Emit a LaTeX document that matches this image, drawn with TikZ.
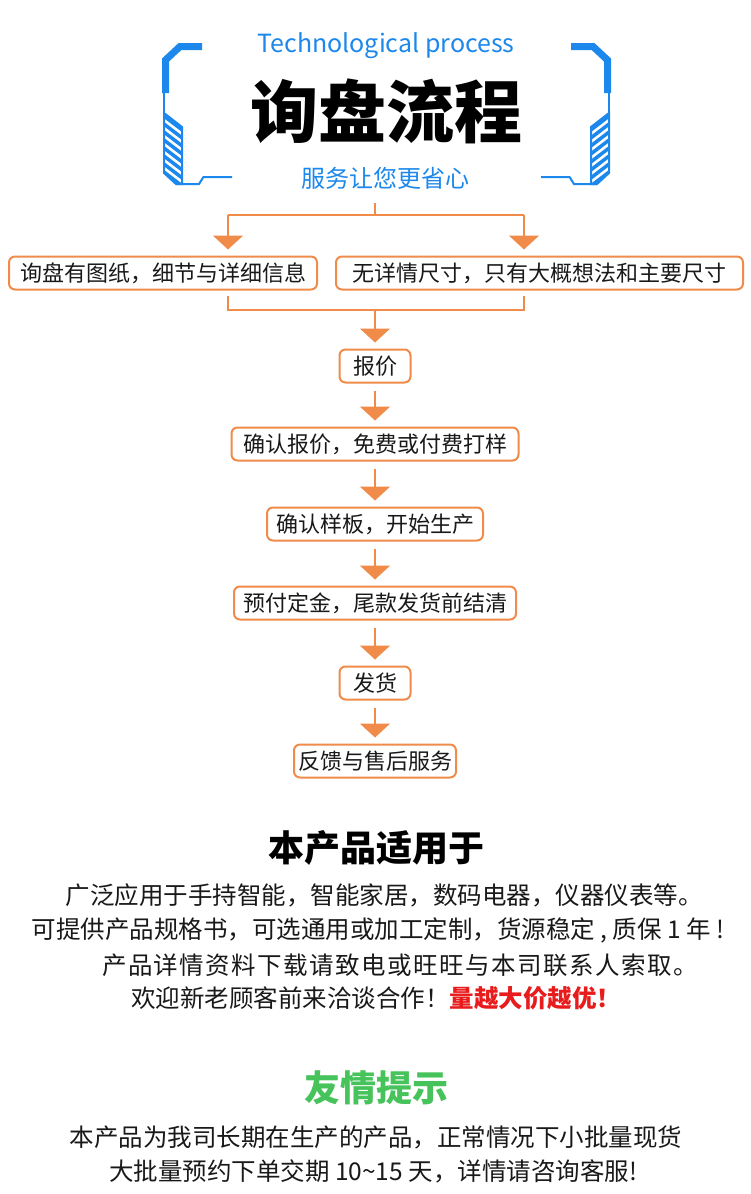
\documentclass[tikz,border=0pt]{standalone}
\usepackage{fontspec}
\setmainfont{Noto Sans CJK SC}
\usetikzlibrary{arrows.meta,positioning}

\definecolor{headblue}{RGB}{28,136,235}
\definecolor{floworange}{RGB}{241,139,74}
\definecolor{tipgreen}{RGB}{70,195,90}
\definecolor{dealred}{RGB}{232,28,28}

\tikzset{
  stepbox/.style={draw=floworange,line width=2pt,rounded corners=6pt,fill=white,
    minimum height=33pt,inner xsep=4pt,inner ysep=1pt,text=black!90,
    font=\fontsize{22}{24}\selectfont},
  link/.style={draw=floworange,line width=2pt},
  flow/.style={link,-{Triangle[width=30pt,length=14pt]},shorten >=6pt},
  bodytext/.style={font=\fontsize{24.5}{26}\selectfont,text=black!90},
  headtext/.style={font=\fontsize{36}{40}\selectfont\bfseries},
  bracketline/.style={draw=headblue,line width=2pt}
}

% one side of the blue frame round the title
\newcommand\sidebracket{%
  \draw[headblue,line width=7pt] (202,46.5) -- (180,46.5) -- (165.5,60) -- (165.5,93);
  \draw[bracketline] (164,90) -- (164,113);
  \draw[bracketline] (164,113) -- (182,127) -- (182,184) -- (176,184) -- (164,173) -- cycle;
  \begin{scope}
    \clip (164,113) -- (182,127) -- (182,184) -- (176,184) -- (164,173) -- cycle;
    \foreach \k in {0,...,10}
      \draw[headblue,line width=3.5pt] (160,113+8*\k) -- ++(26,19.9);
  \end{scope}
  \draw[bracketline] (176,184) -- (199,184) -- (203.5,177) -- (232,177);
}

\begin{document}
\begin{tikzpicture}[x=1pt,y=-1pt]
\fill[white] (0,0) rectangle (750,1194);
\useasboundingbox (0,0) rectangle (750,1194);

% title
\sidebracket
\begin{scope}[xshift=773pt,xscale=-1]
\sidebracket
\end{scope}
\node[font=\fontsize{25}{28}\selectfont,text=headblue,anchor=base] (techname) at (386,52) {Technological process};
\node[font=\fontsize{68}{70}\selectfont\bfseries] (title) at (386,111) {询盘流程};
\node[font=\fontsize{24}{26}\selectfont,text=headblue] (slogan) at (385,178) {服务让您更省心};

% flow
\node[stepbox,minimum width=308pt] (drawing) at (163,273) {询盘有图纸，细节与详细信息};
\node[stepbox,minimum width=407pt] (rough) at (539.5,273) {无详情尺寸，只有大概想法和主要尺寸};
\node[stepbox,minimum width=71pt] (quote) at (375,366) {报价};
\node[stepbox,minimum width=287pt] (confirm) at (375,444) {确认报价，免费或付费打样};
\node[stepbox,minimum width=216pt] (sample) at (375,524) {确认样板，开始生产};
\node[stepbox,minimum width=282pt] (deposit) at (375,603) {预付定金，尾款发货前结清};
\node[stepbox,minimum width=71pt] (ship) at (375,683) {发货};
\node[stepbox,minimum width=162pt] (service) at (375,761) {反馈与售后服务};

\coordinate (src) at (375,203);
\coordinate (fork) at (375,215);
\coordinate (forkL) at (228,215);
\coordinate (forkR) at (524,215);
\draw[link] (src) -- (fork);
\draw[link] (forkL) -- (forkR);
\draw[flow] (forkL) -- (forkL |- drawing.north);
\draw[flow] (forkR) -- (forkR |- rough.north);

\coordinate (mergeL) at (228,310);
\coordinate (mergeR) at (524,310);
\coordinate (merge) at (375,310);
\draw[link,shorten <=5pt,shorten >=5pt] (mergeL |- drawing.south) -- (mergeL) -- (mergeR) -- (mergeR |- rough.south);
\draw[flow] (merge) -- (quote);
\foreach \a/\b in {quote/confirm,confirm/sample,sample/deposit,deposit/ship,ship/service}
  \draw[flow,shorten <=7pt] (\a) -- (\b);

% notes
\node[headtext] (usehead) at (376,848) {本产品适用于};
\node[bodytext] (use1) at (384,895) {广泛应用于手持智能，智能家居，数码电器，仪器仪表等。};
\node[bodytext] (use2) at (378,930) {可提供产品规格书，可选通用或加工定制，货源稳定 , 质保 1 年 !};
\node[bodytext] (use3) at (400,965) {\addfontfeature{LetterSpace=6}产品详情资料下载请致电或旺旺与本司联系人索取。};
\node[bodytext] (use4) at (376,998) {欢迎新老顾客前来洽谈合作！\textcolor{dealred}{\bfseries 量越大价越优！}};
\node[headtext,text=tipgreen] (tiphead) at (376,1088) {友情提示};
\node[bodytext] (tip1) at (376,1137) {本产品为我司长期在生产的产品，正常情况下小批量现货};
\node[bodytext] (tip2) at (373,1171) {大批量预约下单交期 10\textasciitilde 15 天，详情请咨询客服!};
\end{tikzpicture}
\end{document}
